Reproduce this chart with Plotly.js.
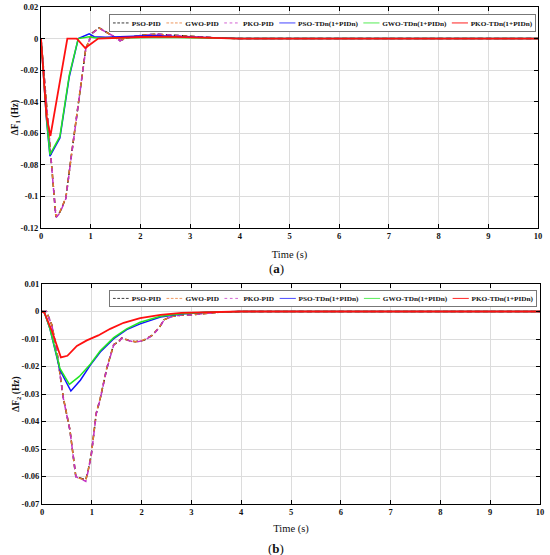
<!DOCTYPE html>
<html>
<head>
<meta charset="utf-8">
<script src="https://cdn.plot.ly/plotly-3.0.1.min.js"></script>
<style>
html,body{margin:0;padding:0;overflow:hidden;background:#fff;}
#chart{width:880px;height:555px;}
</style>
</head>
<body>
<div id="chart"></div>
<script>
// ---------- DATA: panel (a) ΔF1 ----------
var t1_pid = [0, 0.30, 0.38, 0.50, 0.62, 0.73, 0.90, 1.03, 1.17, 1.32, 1.46, 1.59, 1.72, 2.00, 2.30, 2.60, 3.00, 3.50, 4.00, 10];
var f1_pso_pid = [0, -0.113, -0.110, -0.101, -0.072, -0.045, -0.0065, 0.0035, 0.0068, 0.004, 0.0015, -0.0013, 0.0004, 0.002, 0.0028, 0.0022, 0.0012, 0.0005, 0, 0];
var f1_gwo_pid = [0, -0.1128, -0.1098, -0.1008, -0.0718, -0.0448, -0.0064, 0.0034, 0.0067, 0.0039, 0.0014, -0.0013, 0.0004, 0.002, 0.0027, 0.0021, 0.0012, 0.0005, 0, 0];
var f1_pko_pid = [0, -0.1135, -0.1105, -0.1015, -0.0725, -0.0455, -0.0068, 0.0033, 0.0066, 0.0039, 0.0015, -0.0014, 0.0003, 0.0019, 0.0028, 0.0022, 0.0012, 0.0005, 0, 0];

var t1_pso_td = [0, 0.11, 0.18, 0.38, 0.57, 0.75, 0.97, 1.07, 1.30, 1.70, 2.00, 2.30, 2.80, 3.50, 4.00, 10];
var f1_pso_td = [0, -0.051, -0.0745, -0.063, -0.024, 0, 0.003, 0.0012, 0.0008, 0.0012, 0.0018, 0.002, 0.0012, 0.0004, 0, 0];
var t1_gwo_td = [0, 0.11, 0.18, 0.38, 0.57, 0.75, 0.97, 1.15, 1.50, 2.00, 2.50, 3.00, 3.50, 4.00, 10];
var f1_gwo_td = [0, -0.050, -0.0735, -0.062, -0.023, 0, 0.0012, 0.0002, 0.0003, 0.0008, 0.0009, 0.0005, 0.0002, 0, 0];
var t1_pko_td = [0, 0.11, 0.19, 0.53, 0.72, 0.89, 1.15, 1.50, 2.00, 2.50, 3.00, 3.50, 4.00, 10];
var f1_pko_td = [0, -0.049, -0.0617, 0, 0, -0.006, 0, 0.0006, 0.001, 0.0012, 0.0007, 0.0003, 0, 0];

// ---------- DATA: panel (b) ΔF2 ----------
var t2_pid = [0, 0.09, 0.20, 0.30, 0.43, 0.56, 0.68, 0.75, 0.83, 0.88, 0.93, 0.99, 1.09, 1.17, 1.30, 1.44, 1.54, 1.60, 1.74, 1.87, 2.04, 2.21, 2.36, 2.45, 2.60, 2.80, 3.00, 3.30, 3.60, 4.00, 10];
var f2_pso_pid = [0, 0, -0.005, -0.0147, -0.0316, -0.043, -0.0601, -0.0605, -0.0608, -0.0612, -0.0575, -0.052, -0.037, -0.0316, -0.0207, -0.012, -0.011, -0.0096, -0.0105, -0.011, -0.0105, -0.0087, -0.0057, -0.003, -0.0018, -0.0013, -0.0012, -0.0007, -0.0002, 0, 0];
var f2_gwo_pid = [0, 0, -0.005, -0.0146, -0.0315, -0.0429, -0.0602, -0.0606, -0.0609, -0.0613, -0.0576, -0.0519, -0.0369, -0.0315, -0.0206, -0.0121, -0.011, -0.0097, -0.0105, -0.011, -0.0104, -0.0087, -0.0056, -0.003, -0.0018, -0.0013, -0.0012, -0.0007, -0.0002, 0, 0];
var f2_pko_pid = [0, 0, -0.0052, -0.0149, -0.0318, -0.0432, -0.0600, -0.0608, -0.0613, -0.0618, -0.0578, -0.0522, -0.0372, -0.0318, -0.0209, -0.0122, -0.0111, -0.0097, -0.0106, -0.0111, -0.0106, -0.0088, -0.0058, -0.0031, -0.0019, -0.0013, -0.0012, -0.0007, -0.0002, 0, 0];

var t2_pso_td = [0, 0.05, 0.16, 0.36, 0.58, 0.77, 0.97, 1.17, 1.44, 1.70, 1.97, 2.38, 2.80, 3.30, 4.00, 10];
var f2_pso_td = [0, -0.0005, -0.0063, -0.0213, -0.0289, -0.025, -0.0195, -0.0147, -0.0099, -0.0066, -0.0045, -0.002, -0.0009, -0.0003, 0, 0];
var t2_gwo_td = [0, 0.05, 0.16, 0.36, 0.55, 0.75, 0.97, 1.17, 1.44, 1.70, 1.97, 2.38, 2.80, 3.30, 4.00, 10];
var f2_gwo_td = [0, -0.0005, -0.0063, -0.0207, -0.0265, -0.0236, -0.0192, -0.0143, -0.0095, -0.0063, -0.0039, -0.0017, -0.0008, -0.0003, 0, 0];
var t2_pko_td = [0, 0.05, 0.195, 0.38, 0.51, 0.70, 0.90, 1.13, 1.37, 1.64, 1.97, 2.38, 2.80, 3.30, 4.00, 10];
var f2_pko_td = [0, -0.0005, -0.0069, -0.0167, -0.0161, -0.0125, -0.0105, -0.0087, -0.0063, -0.0041, -0.0024, -0.0012, -0.0005, -0.0002, 0, 0];

// ---------- LABELS ----------
var seriesNames = ['PSO-PID', 'GWO-PID', 'PKO-PID', 'PSO-TDn(1+PIDn)', 'GWO-TDn(1+PIDn)', 'PKO-TDn(1+PIDn)'];
var y1TickVals = [0.02, 0, -0.02, -0.04, -0.06, -0.08, -0.1, -0.12];
var y1TickText = ['0.02', '0', '-0.02', '-0.04', '-0.06', '-0.08', '-0.1', '-0.12'];
var y2TickVals = [0.01, 0, -0.01, -0.02, -0.03, -0.04, -0.05, -0.06, -0.07];
var y2TickText = ['0.01', '0', '-0.01', '-0.02', '-0.03', '-0.04', '-0.05', '-0.06', '-0.07'];
var xTickVals = [0, 1, 2, 3, 4, 5, 6, 7, 8, 9, 10];

// ---------- STYLES ----------
var W = 880, H = 555;
var FONT = 'Liberation Serif, Times New Roman, serif';
var styles = [
  {color: '#000000', dash: '5px,3px', width: 1.5},
  {color: '#E8782F', dash: '5px,3px', width: 1.5},
  {color: '#C433C4', dash: '5px,5px', width: 1.5},
  {color: '#1010FF', dash: 'solid', width: 1.5},
  {color: '#22E622', dash: 'solid', width: 1.5},
  {color: '#FF1010', dash: 'solid', width: 1.8}
];

var panelA = [[t1_pid, f1_pso_pid], [t1_pid, f1_gwo_pid], [t1_pid, f1_pko_pid], [t1_pso_td, f1_pso_td], [t1_gwo_td, f1_gwo_td], [t1_pko_td, f1_pko_td]];
var panelB = [[t2_pid, f2_pso_pid], [t2_pid, f2_gwo_pid], [t2_pid, f2_pko_pid], [t2_pso_td, f2_pso_td], [t2_gwo_td, f2_gwo_td], [t2_pko_td, f2_pko_td]];

var data = [];
panelA.forEach(function (s, i) {
  data.push({x: s[0], y: s[1], type: 'scatter', mode: 'lines', name: seriesNames[i],
    xaxis: 'x', yaxis: 'y', legend: 'legend',
    line: {color: styles[i].color, dash: styles[i].dash, width: styles[i].width}});
});
panelB.forEach(function (s, i) {
  data.push({x: s[0], y: s[1], type: 'scatter', mode: 'lines', name: seriesNames[i],
    xaxis: 'x2', yaxis: 'y2', legend: 'legend2',
    line: {color: styles[i].color, dash: styles[i].dash, width: styles[i].width}});
});

var tickFont = {family: FONT, size: 8.5, color: '#111', weight: 'bold'};
function xAxis(domain, anchor, standoff) {
  return {domain: domain, anchor: anchor, range: [0, 10], tickvals: xTickVals,
    ticks: 'inside', ticklen: 4, tickcolor: '#000', showline: true, linecolor: '#000', linewidth: 1,
    mirror: 'ticks', showgrid: true, gridcolor: '#dcdcdc', gridwidth: 1, zeroline: false,
    tickfont: tickFont,
    title: {text: 'Time (s)', font: {family: FONT, size: 10.5, color: '#111'}, standoff: standoff}};
}
function yAxis(domain, anchor, range, vals, text, label) {
  return {domain: domain, anchor: anchor, range: range, tickvals: vals, ticktext: text,
    ticks: 'inside', ticklen: 4, tickcolor: '#000', showline: true, linecolor: '#000', linewidth: 1,
    mirror: 'ticks', showgrid: true, gridcolor: '#dcdcdc', gridwidth: 1, zeroline: false,
    tickfont: tickFont,
    title: {text: label, font: {family: FONT, size: 9.5, color: '#111', weight: 'bold'}, standoff: 0}};
}
function legendCfg(yTop) {
  return {orientation: 'h', x: 0, xanchor: 'left', y: yTop, yanchor: 'top',
    bgcolor: '#ffffff', bordercolor: '#777777', borderwidth: 2.4,
    font: {family: FONT, size: 13.5, color: '#111', weight: 'bold'},
    itemwidth: 30, traceorder: 'normal'};
}

var layout = {
  width: W, height: H,
  margin: {l: 0, r: 0, t: 0, b: 0},
  paper_bgcolor: '#fff', plot_bgcolor: '#fff',
  showlegend: true,
  xaxis: xAxis([41 / W, 538 / W], 'y', 10),
  yaxis: yAxis([1 - 228 / H, 1 - 7 / H], 'x', [-0.12, 0.02], y1TickVals, y1TickText, '\u0394F<sub>1</sub> (Hz)'),
  xaxis2: xAxis([42 / W, 540 / W], 'y2', 8),
  yaxis2: yAxis([1 - 504 / H, 1 - 284 / H], 'x2', [-0.07, 0.01], y2TickVals, y2TickText, '\u0394F<sub>2</sub> (Hz)'),
  legend: legendCfg(0.97),
  legend2: legendCfg(0.47),
  annotations: [
    {text: '(<b>a</b>)', xref: 'paper', yref: 'paper', x: 276 / W, y: 1 - 268 / H, showarrow: false,
      font: {family: FONT, size: 13, color: '#111'}, xanchor: 'center', yanchor: 'middle'},
    {text: '(<b>b</b>)', xref: 'paper', yref: 'paper', x: 276 / W, y: 1 - 548 / H, showarrow: false,
      font: {family: FONT, size: 13, color: '#111'}, xanchor: 'center', yanchor: 'middle'}
  ]
};

var gd = document.getElementById('chart');
Plotly.newPlot(gd, data, layout, {displayModeBar: false, staticPlot: true}).then(function () {
  // compress the one-row legends horizontally into the narrow box of the original figure
  function squeeze(cls, left, top, wT, hT) {
    var g = gd.querySelector('g.' + cls);
    if (!g) return;
    var bg = g.querySelector('rect.bg');
    if (!bg) return;
    var w = parseFloat(bg.getAttribute('width')) || bg.getBBox().width;
    var h = parseFloat(bg.getAttribute('height')) || bg.getBBox().height;
    g.setAttribute('transform', 'translate(' + left + ',' + top + ') scale(' + (wT / w) + ',' + (hT / h) + ')');
  }
  squeeze('legend', 109, 14, 426, 17);
  squeeze('legend2', 109, 290, 427, 16);
});
</script>
</body>
</html>
